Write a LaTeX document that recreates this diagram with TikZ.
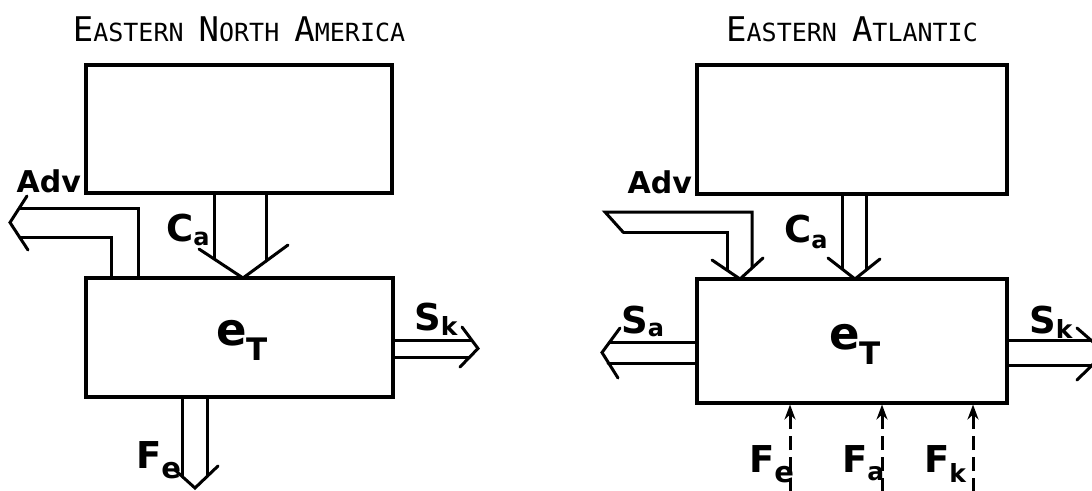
\documentclass[tikz,border=0pt]{standalone}
\usepackage{fontspec}
\setmainfont{DejaVu Sans}
\newfontfamily\titlefont{DejaVu Sans Mono}
\usetikzlibrary{arrows.meta}
\newcommand\tbig[1]{{\fontsize{34}{34}\selectfont #1}}
\newcommand\tsml[1]{{\fontsize{25}{25}\selectfont #1}}
\newcommand\mylab[4]{{\bfseries\fontsize{37}{37}\selectfont #1}\raisebox{-#3pt}{\bfseries\fontsize{#4}{#4}\selectfont #2}}
\begin{document}
\begin{tikzpicture}[x=1pt,y=-1pt,
  ln/.style={line width=3pt, line cap=round, line join=miter},
  box/.style={draw, line width=3.2pt, inner sep=0pt, outer sep=0pt},
  lbl/.style={inner sep=0pt, anchor=base west},
  dsh/.style={line width=3pt, dash pattern=on 14pt off 7pt, shorten >=1.5pt,
              -{Stealth[length=15pt,width=11pt]}}]
\useasboundingbox (0,0) rectangle (1092,490);
\fill[white] (0,0) rectangle (1092,490);
\begin{scope}
\clip (0,0) rectangle (1092,490);
% ---------- titles ----------
\node[anchor=base, inner sep=0pt, font=\titlefont] (titleL) at (239,41)
  {\tbig{E}\tsml{ASTERN }\tbig{N}\tsml{ORTH }\tbig{A}\tsml{MERICA}};
\node[anchor=base, inner sep=0pt, font=\titlefont] (titleR) at (852,41)
  {\tbig{E}\tsml{ASTERN }\tbig{A}\tsml{TLANTIC}};
% ---------- boxes ----------
\node[box, minimum width=306pt, minimum height=128pt] (topL) at (239,129) {};
\node[box, minimum width=307pt, minimum height=119pt] (etL) at (239.5,337.5) {};
\node[box, minimum width=310pt, minimum height=129pt] (topR) at (852,129.5) {};
\node[box, minimum width=310pt, minimum height=124pt] (etR) at (852,341) {};
% ---------- left panel ----------
\node[inner sep=0pt, anchor=base east, font=\fontsize{30}{30}\selectfont\bfseries] (advL) at (81,192) {Adv};
% Adv arrow (left)
\draw[ln] (138,278) -- (138,208) -- (19.4,208);
\draw[ln] (111,278) -- (111,237) -- (19.3,237);
\draw[ln] (27,196) -- (10,222.5) -- (28,250);
% C_a arrow (left)
\draw[ln] (214,193) -- (214,259);
\draw[ln] (266,193) -- (266,261);
\draw[ln] (199,249) -- (243,278) -- (288,245);
\node[lbl] (caL) at (166,241) {\mylab{C}{a}{4}{24}};
% e_T
\node[lbl] (eTL) at (216,345) {{\fontsize{45}{45}\selectfont\bfseries e}\raisebox{-15pt}{\fontsize{31}{31}\selectfont\bfseries T}};
% S_k arrow (left)
\draw[ln] (393,340) -- (471.7,340);
\draw[ln] (393,357) -- (469.7,357);
\draw[ln] (462,327) -- (478,348.5) -- (460,367);
\node[lbl] (skL) at (414,330) {\mylab{S}{k}{5}{25}};
% F_e arrow (left)
\draw[ln] (182,397) -- (182,476);
\draw[ln] (207,397) -- (207,476.5);
\draw[ln] (175,470) -- (195,488) -- (218,466);
\node[lbl] (feL) at (136,468) {\mylab{F}{e}{10}{29}};
% ---------- right panel ----------
\node[inner sep=0pt, anchor=base east, font=\fontsize{30}{30}\selectfont\bfseries] (advR) at (692,193) {Adv};
% Adv arrow (right)
\draw[ln] (623,232) -- (605,212) -- (752,212) -- (752,268);
\draw[ln] (623,232) -- (727,232) -- (727,270);
\draw[ln] (712,260) -- (740,279) -- (763,258);
% C_a arrow (right)
\draw[ln] (842,194) -- (842,269);
\draw[ln] (866,194) -- (866,270);
\draw[ln] (828,258) -- (855,279) -- (880,259);
\node[lbl] (caR) at (784,242) {\mylab{C}{a}{6}{24}};
% e_T
\node[lbl] (eTR) at (829,349) {{\fontsize{45}{45}\selectfont\bfseries e}\raisebox{-15pt}{\fontsize{31}{31}\selectfont\bfseries T}};
% S_a arrow
\draw[ln] (697,342) -- (610,342);
\draw[ln] (697,363) -- (608,363);
\draw[ln] (620,328) -- (602,352.5) -- (618,378);
\node[lbl] (saR) at (621,333) {\mylab{S}{a}{3}{24}};
% S_k arrow (right)
\draw[ln] (1007,340) -- (1100,340);
\draw[ln] (1007,365) -- (1100,365);
\draw[ln] (1077,328) -- (1105,352.5) -- (1077,380);
\node[lbl] (skR) at (1029,333) {\mylab{S}{k}{5}{25}};
% dashed fluxes
\coordinate (fe) at (790,492);
\coordinate (fa) at (882,492);
\coordinate (fk) at (973,492);
\draw[dsh] (fe) -- (fe |- etR.south);
\draw[dsh] (fa) -- (fa |- etR.south);
\draw[dsh] (fk) -- (fk |- etR.south);
\node[lbl] (feR) at (749,472) {\mylab{F}{e}{10}{29}};
\node[lbl] (faR) at (842,472) {\mylab{F}{a}{8}{25}};
\node[lbl] (fkR) at (924,472) {\mylab{F}{k}{10}{25}};
\end{scope}
\end{tikzpicture}
\end{document}
